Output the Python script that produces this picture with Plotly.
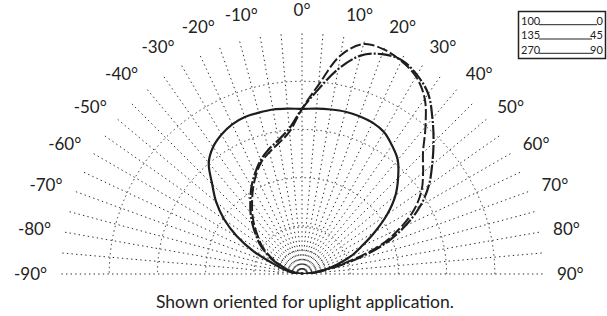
import plotly.graph_objects as go

# ---- data (relative intensity, outer ring = 100) ----
angles = list(range(-90, 95, 5))

solid_0 = [0, 2.1, 5.0, 8.3, 12.9, 22.0, 31.1, 39.4, 46.5, 52.7, 60.2, 64.3, 66.8, 68.5,
           69.3, 69.3, 69.3, 68.9, 68.5, 68.9, 69.3, 69.7, 69.7, 69.3, 68.0, 65.1, 61.8,
           56.4, 50.6, 43.2, 34.9, 27.4, 21.6, 14.9, 9.1, 4.1, 0]

dash_45 = [0, 1.2, 2.9, 5.0, 7.9, 12.0, 16.2, 20.3, 23.7, 27.8, 32.0, 36.1, 40.7, 45.2,
           49.4, 52.3, 55.2, 59.3, 68.5, 78.8, 92.1, 98.8, 99.2, 97.5, 94.6, 88.8, 79.7,
           71.0, 65.6, 60.6, 53.9, 44.8, 34.4, 19.9, 8.3, 2.9, 0]

dashdot_90 = [0, 1.7, 3.3, 5.8, 8.7, 12.9, 17.0, 21.2, 24.9, 29.0, 33.2, 37.3, 41.9, 46.1,
              50.2, 53.5, 56.4, 60.6, 68.5, 76.8, 86.3, 93.8, 97.1, 97.9, 95.4, 91.3, 84.2,
              77.2, 70.5, 64.3, 56.8, 47.3, 36.5, 22.4, 10.0, 3.7, 0]

ring_values = [10, 20, 40, 60, 80, 100]
tick_angles = list(range(-90, 95, 5))
tick_labels = [f"{a}°" if a % 10 == 0 else "" for a in tick_angles]

legend_left = ["100", "135", "270"]
legend_right = ["0", "45", "90"]
caption = "Shown oriented for uplight application."

# ---- layout geometry (screen px) ----
W, H = 607, 316
CX, CY, R = 302, 274, 241          # polar centre / outer radius in pixels
ML = CX - R
MT = CY - R
PW, PH = 2 * R, R
MR = W - ML - PW
MB = H - MT - PH

def px(x):
    return (x - ML) / PW

def py(y):
    return (MT + PH - y) / PH

FONT = "Lato"
INK = "#1e1e1e"
GRID = "#2e2e2e"

fig = go.Figure()
fig.add_trace(go.Scatterpolar(r=solid_0, theta=angles, mode="lines",
                              line=dict(color=INK, width=2.2, shape="spline", smoothing=1),
                              showlegend=False, name="0"))
fig.add_trace(go.Scatterpolar(r=dash_45, theta=angles, mode="lines",
                              line=dict(color=INK, width=2, dash="11px,3px", shape="spline", smoothing=1),
                              showlegend=False, name="45"))
fig.add_trace(go.Scatterpolar(r=dashdot_90, theta=angles, mode="lines",
                              line=dict(color=INK, width=2.2, dash="14px,2px,2px,2px", shape="spline", smoothing=1),
                              showlegend=False, name="90"))

grid_dash = "1.4px,3.2px"

fig.update_layout(
    width=W, height=H,
    margin=dict(l=ML, r=MR, t=MT, b=MB, pad=0),
    paper_bgcolor="white",
    font=dict(family=FONT, color="#222", size=15),
    polar=dict(
        domain=dict(x=[0, 1], y=[0, 1]),
        sector=[0, 180],
        bgcolor="white",
        radialaxis=dict(range=[0, 100], tickmode="array", tickvals=ring_values,
                        showticklabels=False, ticks="", showline=False,
                        gridcolor=GRID, gridwidth=1, griddash=grid_dash),
        angularaxis=dict(rotation=90, direction="clockwise", tickmode="array",
                         tickvals=tick_angles, ticktext=tick_labels,
                         showline=False, ticks="outside", ticklen=10,
                         tickcolor="rgba(0,0,0,0)",
                         tickfont=dict(family=FONT, size=17, color="#222"),
                         gridcolor=GRID, gridwidth=1, griddash=grid_dash),
    ),
)

# caption
fig.add_annotation(x=px(305), y=py(301), xref="paper", yref="paper", text=caption,
                   showarrow=False, font=dict(family=FONT, size=17.5, color="#222"),
                   xanchor="center", yanchor="middle")

# legend box: one text block per column, underline for each row
LEG_FS = 11
row_gap = LEG_FS * 1.3
mid_y = 35
fig.add_shape(type="rect", xref="paper", yref="paper",
              x0=px(518.5), x1=px(605.5), y0=py(11.5), y1=py(58.5),
              line=dict(color="#222", width=1.5), fillcolor="white")
fig.add_annotation(x=px(519), y=py(mid_y), xref="paper", yref="paper",
                   text="<br>".join(legend_left), align="left",
                   showarrow=False, xanchor="left", yanchor="middle",
                   font=dict(family=FONT, size=LEG_FS, color="#222"))
fig.add_annotation(x=px(605), y=py(mid_y), xref="paper", yref="paper",
                   text="<br>".join(legend_right), align="right",
                   showarrow=False, xanchor="right", yanchor="middle",
                   font=dict(family=FONT, size=LEG_FS, color="#222"))
for i, rt in enumerate(legend_right):
    yy = mid_y + (i - 1) * row_gap + 4
    fig.add_shape(type="line", xref="paper", yref="paper",
                  x0=px(539), x1=px(592 if len(rt) > 1 else 597), y0=py(yy), y1=py(yy),
                  line=dict(color="#222", width=1))

fig.write_html("out.html", config={"displayModeBar": False},
               post_script="document.body.style.margin='0';")
